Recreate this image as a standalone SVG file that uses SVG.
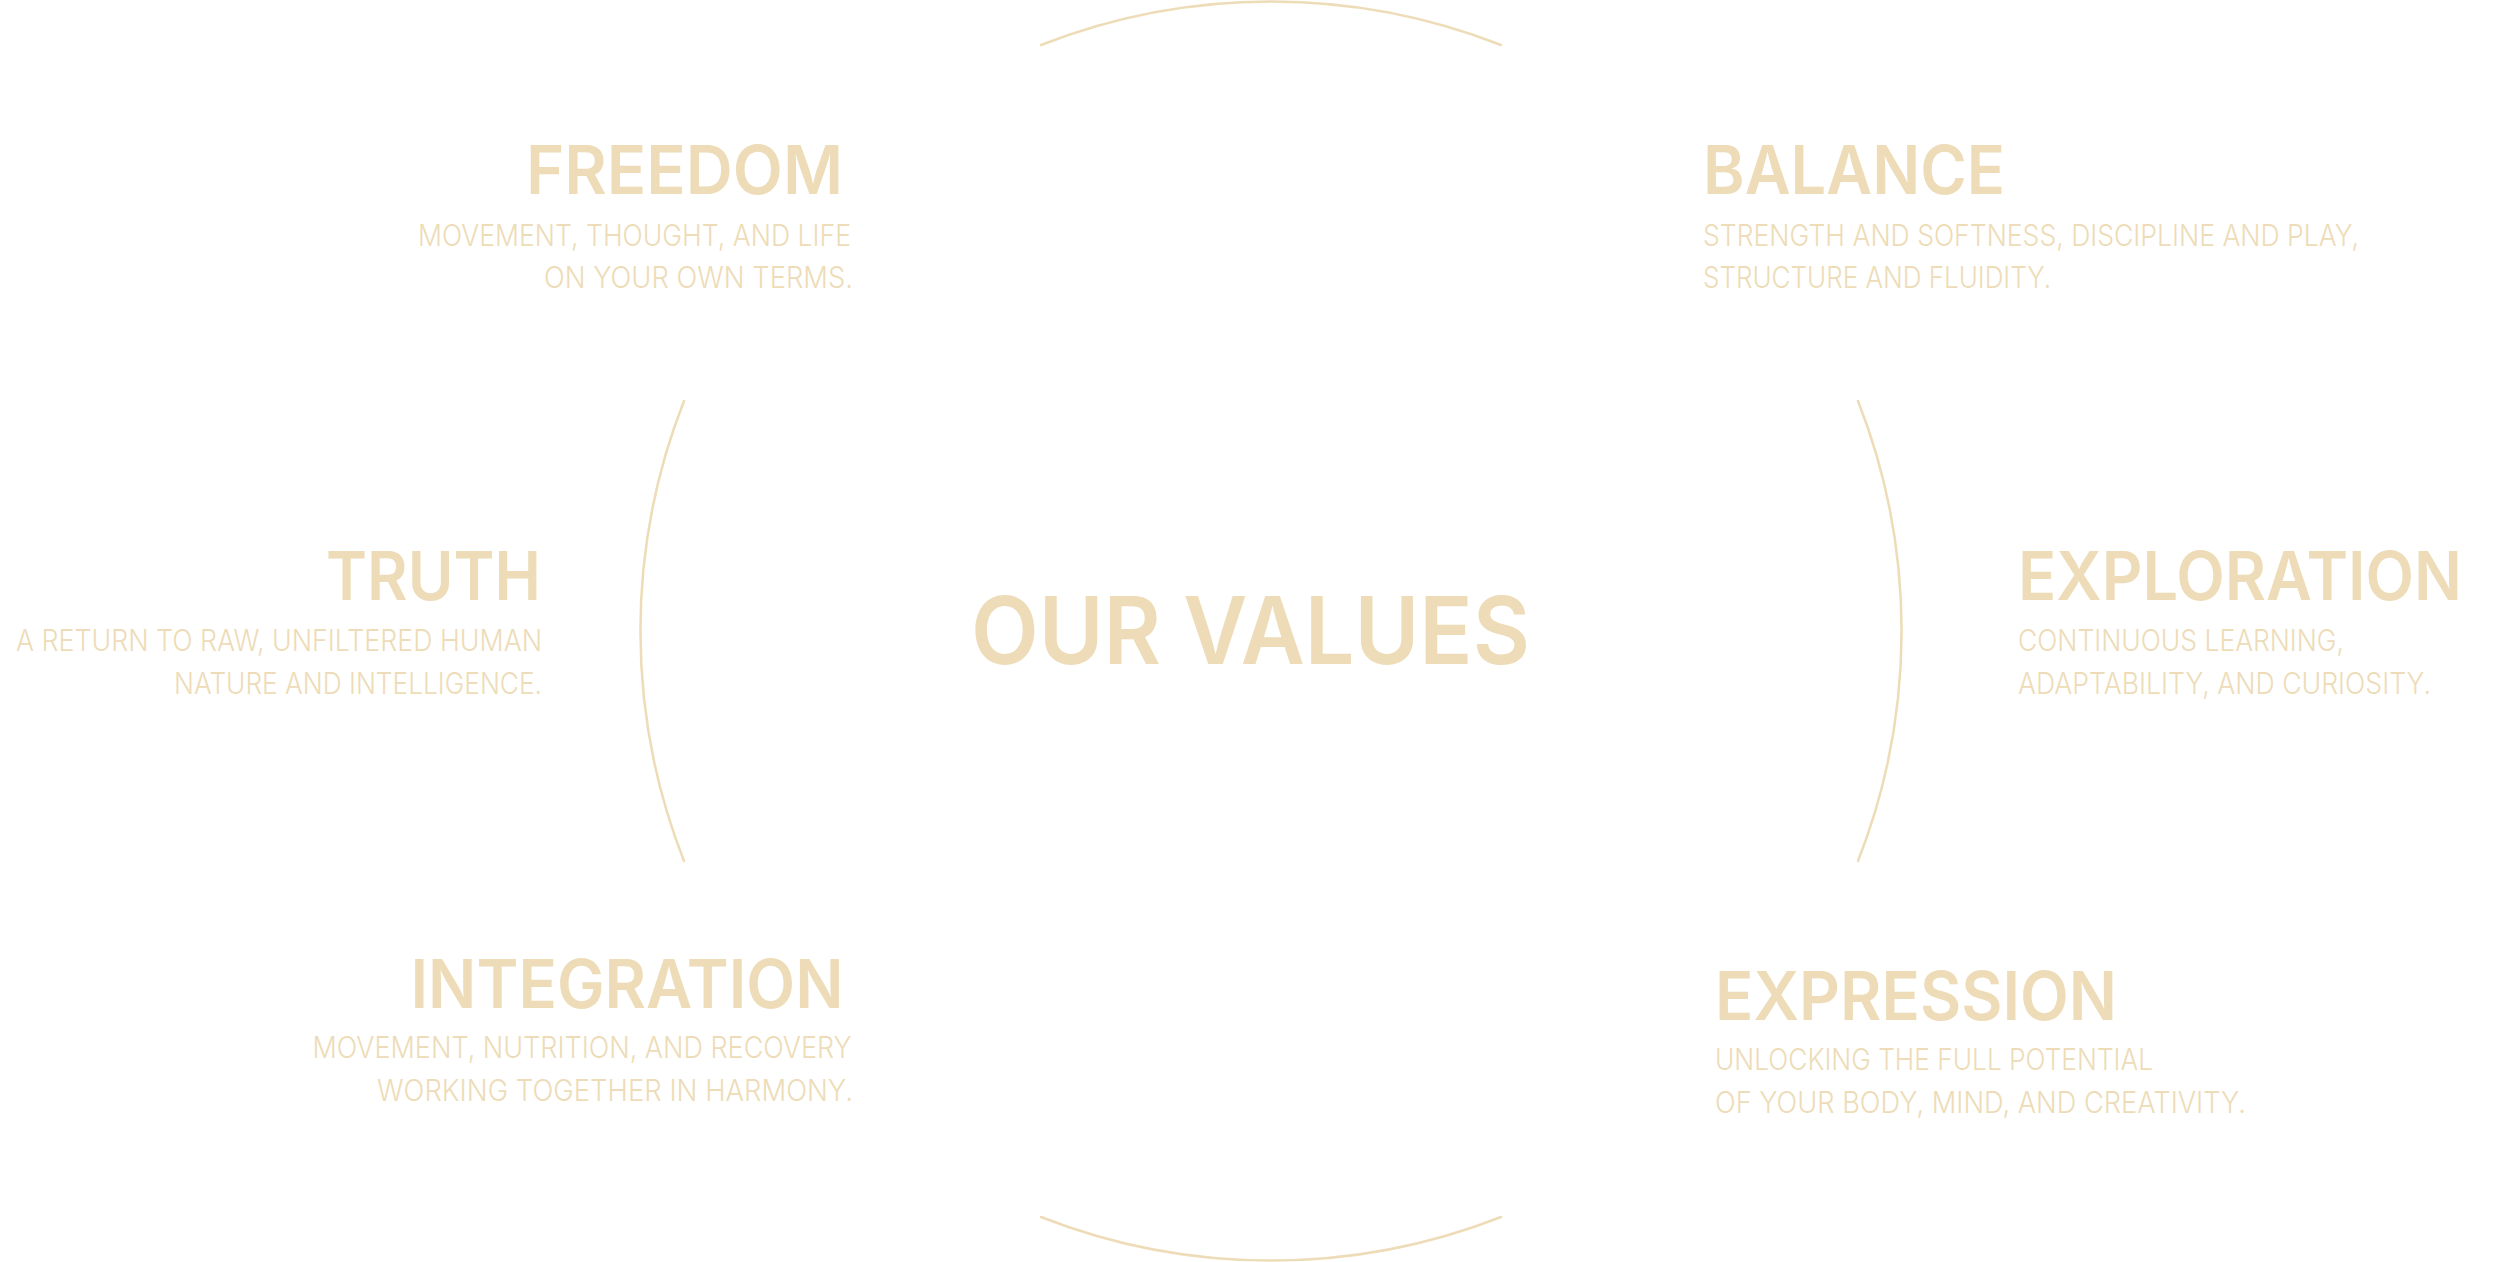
<svg xmlns="http://www.w3.org/2000/svg" width="2500" height="1262" viewBox="0 0 2500 1262">
  <style>
    .title { font-family: Inter, "Liberation Sans", sans-serif; font-weight: 600; font-size: 67px; fill: #EDDCB7; }
    .desc { font-family: Inter, "Liberation Sans", sans-serif; font-weight: 300; font-size: 30px; fill: #EDDCB7; }
    .center { font-family: Inter, "Liberation Sans", sans-serif; font-weight: 600; font-size: 94px; fill: #EDDCB7; }
    .arc { fill: none; stroke: #EDDCB7; stroke-width: 2.5; stroke-linecap: round; }
  </style>
  <rect width="2500" height="1262" fill="#FFFFFF"/>
  <g id="ring">
    <path class="arc" d="M1041,45 A629,629 0 0 1 1501,45"/>
    <path class="arc" d="M1041,1217 A629,629 0 0 0 1501,1217"/>
    <path class="arc" d="M684,401 A629,629 0 0 0 684,861"/>
    <path class="arc" d="M1858,401 A629,629 0 0 1 1858,861"/>
  </g>
  <g id="our-values">
    <text class="center" x="971" y="664" textLength="559" lengthAdjust="spacingAndGlyphs">OUR VALUES</text>
  </g>
  <g id="freedom">
    <text class="title" x="526" y="194" textLength="317" lengthAdjust="spacingAndGlyphs">FREEDOM</text>
    <text class="desc" x="418" y="245.5" textLength="433" lengthAdjust="spacingAndGlyphs">MOVEMENT, THOUGHT, AND LIFE</text>
    <text class="desc" x="544" y="288" textLength="309" lengthAdjust="spacingAndGlyphs">ON YOUR OWN TERMS.</text>
  </g>
  <g id="balance">
    <text class="title" x="1703" y="194" textLength="302" lengthAdjust="spacingAndGlyphs">BALANCE</text>
    <text class="desc" x="1703" y="245.5" textLength="656" lengthAdjust="spacingAndGlyphs">STRENGTH AND SOFTNESS, DISCIPLINE AND PLAY,</text>
    <text class="desc" x="1703" y="288" textLength="348" lengthAdjust="spacingAndGlyphs">STRUCTURE AND FLUIDITY.</text>
  </g>
  <g id="truth">
    <text class="title" x="326" y="600" textLength="215" lengthAdjust="spacingAndGlyphs">TRUTH</text>
    <text class="desc" x="16" y="651" textLength="526" lengthAdjust="spacingAndGlyphs">A RETURN TO RAW, UNFILTERED HUMAN</text>
    <text class="desc" x="174" y="694" textLength="368" lengthAdjust="spacingAndGlyphs">NATURE AND INTELLIGENCE.</text>
  </g>
  <g id="exploration">
    <text class="title" x="2018" y="600" textLength="444" lengthAdjust="spacingAndGlyphs">EXPLORATION</text>
    <text class="desc" x="2018" y="651" textLength="326" lengthAdjust="spacingAndGlyphs">CONTINUOUS LEARNING,</text>
    <text class="desc" x="2018" y="694" textLength="413" lengthAdjust="spacingAndGlyphs">ADAPTABILITY, AND CURIOSITY.</text>
  </g>
  <g id="integration">
    <text class="title" x="410.5" y="1008" textLength="433" lengthAdjust="spacingAndGlyphs">INTEGRATION</text>
    <text class="desc" x="312.5" y="1058" textLength="539" lengthAdjust="spacingAndGlyphs">MOVEMENT, NUTRITION, AND RECOVERY</text>
    <text class="desc" x="377" y="1101" textLength="476" lengthAdjust="spacingAndGlyphs">WORKING TOGETHER IN HARMONY.</text>
  </g>
  <g id="expression">
    <text class="title" x="1715" y="1019.5" textLength="402" lengthAdjust="spacingAndGlyphs">EXPRESSION</text>
    <text class="desc" x="1715" y="1070" textLength="438" lengthAdjust="spacingAndGlyphs">UNLOCKING THE FULL POTENTIAL</text>
    <text class="desc" x="1715" y="1113" textLength="531" lengthAdjust="spacingAndGlyphs">OF YOUR BODY, MIND, AND CREATIVITY.</text>
  </g>
</svg>
